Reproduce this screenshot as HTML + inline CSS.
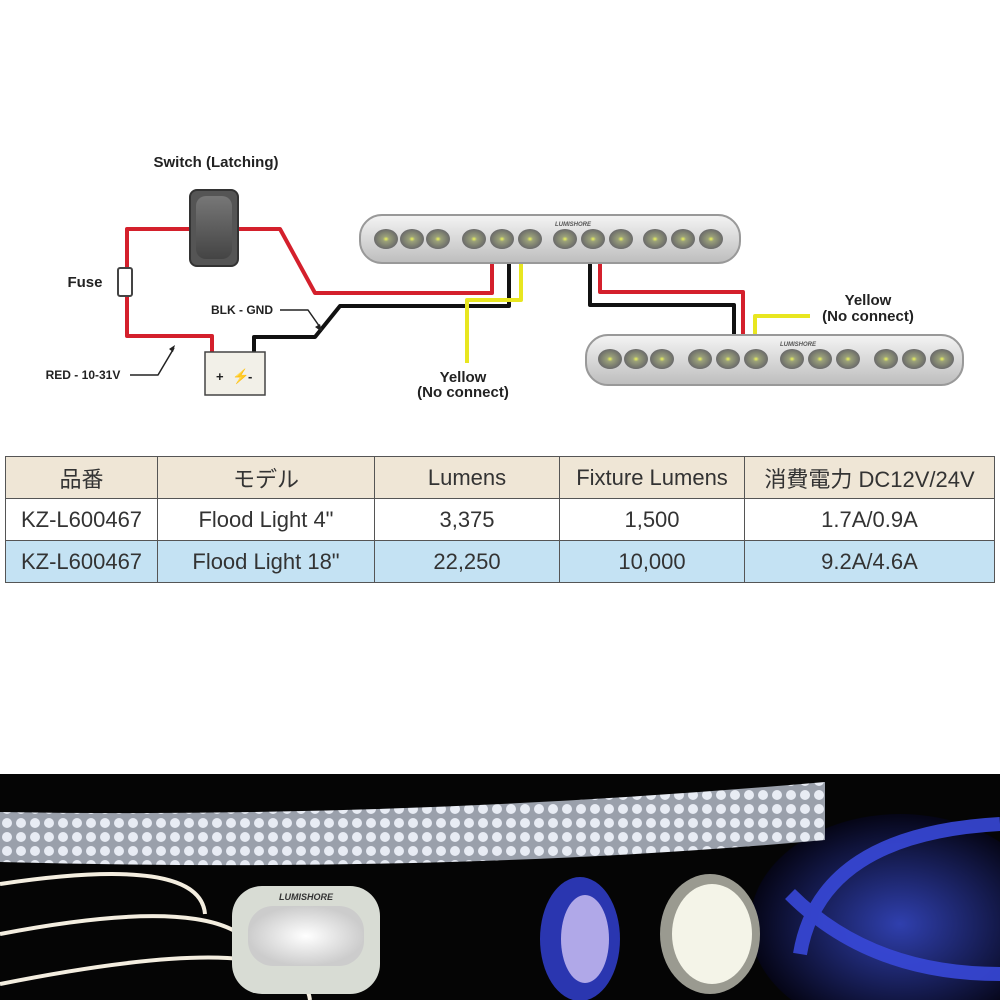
<!DOCTYPE html>
<html><head><meta charset="utf-8"><style>
body{margin:0;width:1000px;height:1000px;background:#fff;position:relative;overflow:hidden;font-family:"Liberation Sans","Noto Sans CJK JP",sans-serif}
table{position:absolute;left:5px;top:456px;border-collapse:collapse;width:990px}
td{border:1.5px solid #555;text-align:center;font-size:22px;color:#333;height:41px;padding:0}
tr.h td{background:#efe6d6}
tr.b td{background:#c4e2f3}
</style></head><body>
<svg width="1000" height="440" style="position:absolute;left:0;top:0" font-family="Liberation Sans, sans-serif" font-weight="bold">
<defs>
<linearGradient id="bar" x1="0" y1="0" x2="0" y2="1"><stop offset="0" stop-color="#f4f4f4"/><stop offset="1" stop-color="#bdbdbd"/></linearGradient>
<radialGradient id="led"><stop offset="0" stop-color="#eef55a"/><stop offset="0.25" stop-color="#9aa07a"/><stop offset="1" stop-color="#6a6a6a"/></radialGradient>
<linearGradient id="sw" x1="0" y1="0" x2="0" y2="1"><stop offset="0" stop-color="#777"/><stop offset="1" stop-color="#444"/></linearGradient>
</defs>
<text x="216" y="167" font-size="15" text-anchor="middle" fill="#222">Switch (Latching)</text>
<text x="85" y="287" font-size="15" text-anchor="middle" fill="#222">Fuse</text>
<text x="242" y="314" font-size="12" text-anchor="middle" fill="#222">BLK - GND</text>
<text x="83" y="379" font-size="12" text-anchor="middle" fill="#222">RED - 10-31V</text>
<text x="463" y="382" font-size="15" text-anchor="middle" fill="#222">Yellow</text>
<text x="463" y="397" font-size="15" text-anchor="middle" fill="#222">(No connect)</text>
<text x="868" y="305" font-size="15" text-anchor="middle" fill="#222">Yellow</text>
<text x="868" y="321" font-size="15" text-anchor="middle" fill="#222">(No connect)</text>
<g fill="none" stroke-linejoin="round" stroke-width="4">
<path d="M192 229H127V336H212V352" stroke="#d4202c"/>
<path d="M238 229H280L315 293H492V263" stroke="#d4202c"/>
<path d="M254 352V337H315L340 306H509V263" stroke="#111"/>
<path d="M521 263V300H467V363" stroke="#e8e620"/>
<path d="M600 263V292H743V335" stroke="#d4202c"/>
<path d="M590 263V305H734V335" stroke="#111"/>
<path d="M755 335V316H810" stroke="#e8e620"/>
<path d="M280 310H308L322 330M130 375H158L174 348" stroke="#222" stroke-width="1.5"/>
</g>
<path d="M322 332l-7-5 5-3z M175 345l-6 4 4 3z" fill="#222"/>
<rect x="118" y="268" width="14" height="28" rx="2" fill="#fff" stroke="#444" stroke-width="2"/>
<rect x="190" y="190" width="48" height="76" rx="7" fill="#555" stroke="#333" stroke-width="2"/>
<rect x="196" y="196" width="36" height="63" rx="10" fill="url(#sw)"/>
<rect x="205" y="352" width="60" height="43" fill="#f2f0e8" stroke="#444" stroke-width="1.5"/>
<text x="216" y="381" font-size="13" fill="#222">+</text><text x="248" y="381" font-size="13" fill="#222">-</text>
<text x="232" y="381" font-size="14" fill="#e0d020">⚡</text>
<rect x="360" y="215" width="380" height="48" rx="22" fill="url(#bar)" stroke="#999" stroke-width="2"/>
<rect x="586" y="335" width="377" height="50" rx="22" fill="url(#bar)" stroke="#999" stroke-width="2"/>
<g fill="url(#led)">
<ellipse cx="386" cy="239" rx="12" ry="10"/><ellipse cx="412" cy="239" rx="12" ry="10"/><ellipse cx="438" cy="239" rx="12" ry="10"/>
<ellipse cx="474" cy="239" rx="12" ry="10"/><ellipse cx="502" cy="239" rx="12" ry="10"/><ellipse cx="530" cy="239" rx="12" ry="10"/>
<ellipse cx="565" cy="239" rx="12" ry="10"/><ellipse cx="593" cy="239" rx="12" ry="10"/><ellipse cx="621" cy="239" rx="12" ry="10"/>
<ellipse cx="655" cy="239" rx="12" ry="10"/><ellipse cx="683" cy="239" rx="12" ry="10"/><ellipse cx="711" cy="239" rx="12" ry="10"/>
<ellipse cx="610" cy="359" rx="12" ry="10"/><ellipse cx="636" cy="359" rx="12" ry="10"/><ellipse cx="662" cy="359" rx="12" ry="10"/>
<ellipse cx="700" cy="359" rx="12" ry="10"/><ellipse cx="728" cy="359" rx="12" ry="10"/><ellipse cx="756" cy="359" rx="12" ry="10"/>
<ellipse cx="792" cy="359" rx="12" ry="10"/><ellipse cx="820" cy="359" rx="12" ry="10"/><ellipse cx="848" cy="359" rx="12" ry="10"/>
<ellipse cx="886" cy="359" rx="12" ry="10"/><ellipse cx="914" cy="359" rx="12" ry="10"/><ellipse cx="942" cy="359" rx="12" ry="10"/>
</g>
<text x="555" y="226" font-size="6" fill="#555" font-style="italic">LUMISHORE</text>
<text x="780" y="346" font-size="6" fill="#555" font-style="italic">LUMISHORE</text>
</svg>
<table>
<tr class="h"><td style="width:151px">品番</td><td style="width:216px">モデル</td><td style="width:184px">Lumens</td><td style="width:184px">Fixture Lumens</td><td>消費電力 DC12V/24V</td></tr>
<tr><td>KZ-L600467</td><td>Flood Light 4"</td><td>3,375</td><td>1,500</td><td>1.7A/0.9A</td></tr>
<tr class="b"><td>KZ-L600467</td><td>Flood Light 18"</td><td>22,250</td><td>10,000</td><td>9.2A/4.6A</td></tr>
</table>
<svg width="1000" height="226" style="position:absolute;left:0;top:774px">
<defs>
<radialGradient id="blue" cx="0.5" cy="0.5" r="0.5"><stop offset="0" stop-color="#3a4ed8"/><stop offset="1" stop-color="#05051a"/></radialGradient>
<radialGradient id="wl"><stop offset="0" stop-color="#fff"/><stop offset="1" stop-color="#ccc"/></radialGradient>
<pattern id="dots" width="14" height="14" patternUnits="userSpaceOnUse"><rect width="14" height="14" fill="#9aa0ab"/><circle cx="7" cy="7" r="5" fill="#e8ecf4"/></pattern>
</defs>
<rect width="1000" height="226" fill="#050505"/>
<ellipse cx="900" cy="150" rx="150" ry="110" fill="url(#blue)" opacity="0.8"/>
<path d="M0 38 Q400 45 825 8 L825 66 Q450 100 0 88Z" fill="url(#dots)"/>
<g fill="none" stroke="#f4eee0" stroke-width="4">
<path d="M0 110 Q200 80 205 140"/><path d="M0 160 Q260 110 262 200"/><path d="M0 210 Q300 150 310 226"/>
</g>
<g fill="none" stroke="#3848d8" stroke-width="14" opacity="0.9">
<path d="M800 180 Q820 60 1000 50"/><path d="M790 120 Q870 200 1000 200"/>
</g>
<rect x="232" y="112" width="148" height="108" rx="30" fill="#d8dcd4"/>
<rect x="248" y="132" width="116" height="60" rx="25" fill="url(#wl)"/>
<text x="306" y="126" font-size="9" font-weight="bold" font-style="italic" fill="#333" text-anchor="middle" font-family="Liberation Sans,sans-serif">LUMISHORE</text>
<ellipse cx="580" cy="165" rx="40" ry="62" fill="#2a36b0"/>
<ellipse cx="585" cy="165" rx="24" ry="44" fill="#b0a8e8"/>
<ellipse cx="710" cy="160" rx="50" ry="60" fill="#9a9a90"/>
<ellipse cx="712" cy="160" rx="40" ry="50" fill="#f4f4e8"/>
</svg>
</body></html>
